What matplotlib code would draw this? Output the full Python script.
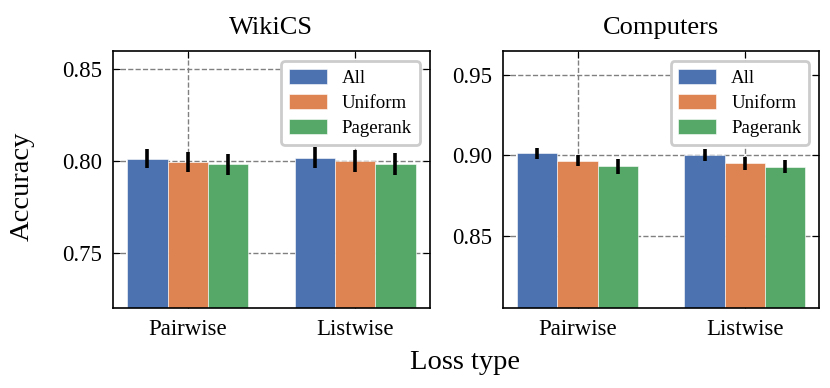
import matplotlib
matplotlib.use("Agg")
import matplotlib.pyplot as plt
import numpy as np

plt.rcParams.update({
    "font.family": "Liberation Serif",
    "font.size": 16.5,
    "xtick.direction": "in", "ytick.direction": "in",
    "xtick.top": True, "ytick.right": True,
    "xtick.major.size": 5, "ytick.major.size": 5,
    "xtick.major.pad": 8, "ytick.major.pad": 8,
    "axes.linewidth": 1.2,
})

loss_types = ["Pairwise", "Listwise"]
methods = ["All", "Uniform", "Pagerank"]
colors = ["#4C72B0", "#DD8452", "#55A868"]

# WikiCS accuracy (rows: method, cols: loss type)
wiki_mean = [[0.8013, 0.8018], [0.7995, 0.8000], [0.7982, 0.7986]]
wiki_err = [[0.0050, 0.0057], [0.0053, 0.0059], [0.0056, 0.0060]]
# Computers accuracy
comp_mean = [[0.9012, 0.9000], [0.8967, 0.8950], [0.8932, 0.8929]]
comp_err = [[0.0034, 0.0038], [0.0033, 0.0041], [0.0045, 0.0040]]

panels = [
    ("WikiCS", wiki_mean, wiki_err, (0.72, 0.86), [0.75, 0.80, 0.85]),
    ("Computers", comp_mean, comp_err, (0.805, 0.965), [0.85, 0.90, 0.95]),
]

fig = plt.figure(figsize=(8.3, 3.88), dpi=100)
boxes = [[0.136, 0.206, 0.382, 0.663], [0.606, 0.206, 0.381, 0.663]]

x = np.arange(len(loss_types))
width = 0.24
for box, (title, mean, err, ylim, yticks) in zip(boxes, panels):
    ax = fig.add_axes(box)
    for i, m in enumerate(methods):
        ax.bar(x + (i - 1) * width, mean[i], width, yerr=err[i], color=colors[i],
               edgecolor="white", linewidth=0.4, label=m,
               error_kw=dict(ecolor="black", elinewidth=2.6, capsize=0))
    ax.set_ylim(*ylim)
    ax.set_yticks(yticks)
    ax.set_yticklabels([f"{t:.2f}" for t in yticks])
    ax.set_xticks(x)
    ax.set_xticklabels(loss_types)
    ax.set_axisbelow(True)
    ax.grid(True, linestyle="--", color="gray", linewidth=1)
    ax.set_title(title, fontsize=19, pad=12)
    leg = ax.legend(loc="upper right", fontsize=13.6, fancybox=True, framealpha=1,
                    handlelength=2.0, handleheight=0.9, handletextpad=0.8,
                    labelspacing=0.35, borderaxespad=0.55)
    leg.get_frame().set_edgecolor("#cccccc")
    leg.get_frame().set_linewidth(2)

fig.text(0.027, 0.52, "Accuracy", rotation=90, ha="center", va="center", fontsize=20.5)
fig.text(0.56, 0.065, "Loss type", ha="center", va="center", fontsize=20.5)

plt.savefig("out.png", dpi=100)
